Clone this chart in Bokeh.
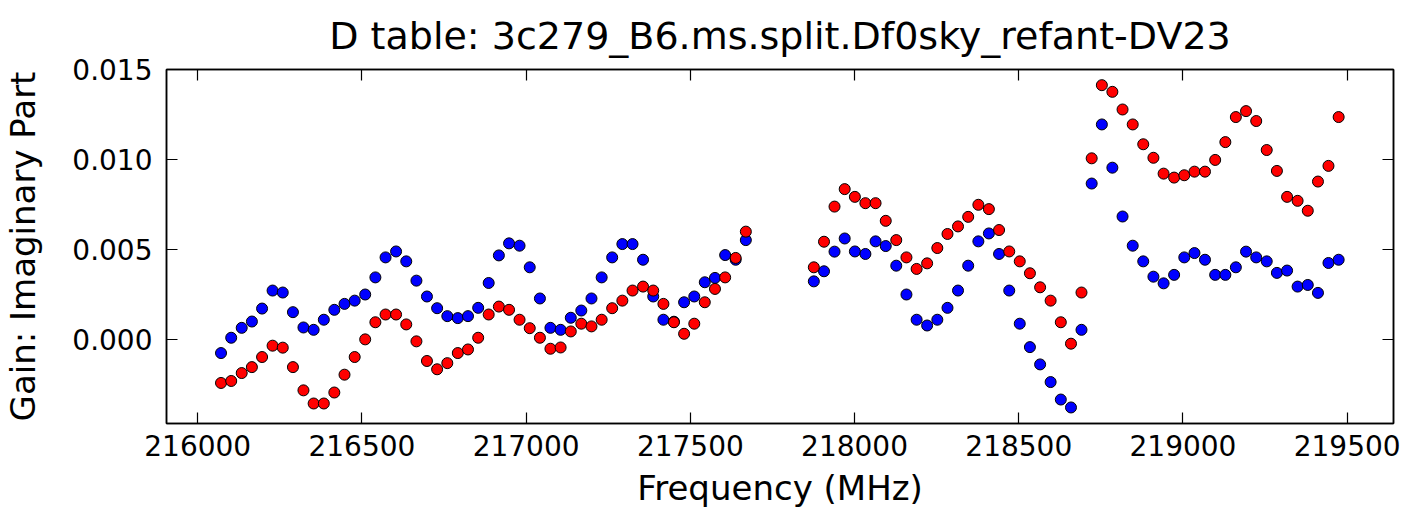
from bokeh.plotting import figure
from bokeh.models import LinearAxis, FixedTicker, NumeralTickFormatter, Range1d
from bokeh.embed import file_html
from bokeh.resources import INLINE

# Frequencies (MHz), two spectral windows
freq_a = [216071, 216102, 216134, 216165, 216196, 216228, 216259, 216290, 216322, 216353,
          216384, 216416, 216447, 216478, 216510, 216541, 216572, 216604, 216635, 216666,
          216698, 216729, 216760, 216792, 216823, 216854, 216886, 216917, 216948, 216980,
          217011, 217042, 217074, 217105, 217136, 217168, 217199, 217230, 217262, 217293,
          217324, 217356, 217387, 217418, 217450, 217481, 217512, 217544, 217575, 217606,
          217638, 217669]
freq_b = [217876, 217907, 217939, 217970, 218001, 218033, 218064, 218095, 218127, 218158,
          218189, 218221, 218252, 218283, 218315, 218346, 218377, 218409, 218440, 218471,
          218503, 218534, 218565, 218597, 218628, 218659, 218691, 218722, 218753, 218785,
          218816, 218847, 218879, 218910, 218941, 218973, 219004, 219035, 219067, 219098,
          219129, 219161, 219192, 219223, 219255, 219286, 219317, 219349, 219380, 219411,
          219443, 219474]

# Imaginary part of D-term gain, polarization 1 (blue)
blue_a = [-0.00074, 0.00011, 0.00066, 0.00101, 0.00173, 0.00273, 0.00262, 0.00153, 0.00068, 0.00055,
          0.00111, 0.00166, 0.00199, 0.00217, 0.00251, 0.00346, 0.00457, 0.00490, 0.00435, 0.00328,
          0.00240, 0.00175, 0.00131, 0.00120, 0.00131, 0.00177, 0.00315, 0.00468, 0.00535, 0.00522,
          0.00402, 0.00229, 0.00066, 0.00055, 0.00122, 0.00162, 0.00229, 0.00346, 0.00457, 0.00531,
          0.00531, 0.00444, 0.00240, 0.00111, 0.00100, 0.00208, 0.00240, 0.00319, 0.00343, 0.00470,
          0.00444, 0.00553]
blue_b = [0.00324, 0.00380, 0.00489, 0.00562, 0.00490, 0.00476, 0.00546, 0.00520, 0.00411, 0.00251,
          0.00111, 0.00079, 0.00111, 0.00177, 0.00273, 0.00411, 0.00546, 0.00590, 0.00476, 0.00273,
          0.00089, -0.00041, -0.00137, -0.00235, -0.00332, -0.00376, 0.00055,
          0.00867, 0.01195, 0.00955, 0.00684, 0.00522, 0.00435, 0.00350, 0.00313, 0.00360, 0.00457,
          0.00481, 0.00444, 0.00360, 0.00360, 0.00402, 0.00489, 0.00457, 0.00435, 0.00371, 0.00384,
          0.00295, 0.00304, 0.00260, 0.00426, 0.00444]

# Imaginary part of D-term gain, polarization 2 (red)
red_a = [-0.00240, -0.00229, -0.00185, -0.00152, -0.00096, -0.00033, -0.00044, -0.00152, -0.00281, -0.00354,
         -0.00354, -0.00293, -0.00194, -0.00096, 0.00002, 0.00097, 0.00140, 0.00140, 0.00085, -0.00009,
         -0.00118, -0.00164, -0.00130, -0.00074, -0.00054, 0.00011, 0.00140, 0.00184, 0.00166, 0.00111,
         0.00064, 0.00011, -0.00050, -0.00043, 0.00046, 0.00089, 0.00074, 0.00111, 0.00175, 0.00217,
         0.00273, 0.00295, 0.00273, 0.00199, 0.00097, 0.00033, 0.00089, 0.00208, 0.00282, 0.00346,
         0.00454, 0.00600]
red_b = [0.00402, 0.00544, 0.00739, 0.00836, 0.00793, 0.00758, 0.00758, 0.00660, 0.00553, 0.00457,
         0.00393, 0.00424, 0.00509, 0.00587, 0.00629, 0.00682, 0.00749, 0.00725, 0.00609, 0.00490,
         0.00435, 0.00369, 0.00291, 0.00217, 0.00097, -0.00022, 0.00262,
         0.01007, 0.01413, 0.01376, 0.01278, 0.01195, 0.01085, 0.01010, 0.00922, 0.00900, 0.00913,
         0.00933, 0.00933, 0.00998, 0.01097, 0.01236, 0.01269, 0.01214, 0.01053, 0.00937, 0.00793,
         0.00771, 0.00716, 0.00878, 0.00965, 0.01236]

x_ticks = [216000, 216500, 217000, 217500, 218000, 218500, 219000, 219500]
y_ticks = [0.000, 0.005, 0.010, 0.015]

FONT = "DejaVu Sans"
TICK_SIZE = "28px"
LABEL_SIZE = "34px"

p = figure(width=1404, height=512, output_backend="svg", toolbar_location=None,
           x_range=Range1d(215905, 219641), y_range=Range1d(-0.00465, 0.015),
           x_axis_label="Frequency (MHz)", y_axis_label="Gain: Imaginary Part",
           min_border_left=166, min_border_right=11, min_border_top=68, min_border_bottom=89)
p.title.text = "D table: 3c279_B6.ms.split.Df0sky_refant-DV23"
p.title.align = "center"
p.title.text_font = FONT
p.title.text_font_size = "38px"
p.title.text_font_style = "normal"
p.title.text_color = "#000000"
p.title.standoff = 23

p.grid.visible = False
p.outline_line_color = "black"
p.outline_line_width = 1.5

top_axis = LinearAxis()
right_axis = LinearAxis()
p.add_layout(top_axis, "above")
p.add_layout(right_axis, "right")

bottom_axis = p.below[0]
left_axis = p.left[0]

for ax in (bottom_axis, top_axis):
    ax.ticker = FixedTicker(ticks=x_ticks)
    ax.formatter = NumeralTickFormatter(format="0")
for ax in (left_axis, right_axis):
    ax.ticker = FixedTicker(ticks=y_ticks)
    ax.formatter = NumeralTickFormatter(format="0.000")

for ax in (bottom_axis, top_axis, left_axis, right_axis):
    ax.major_tick_in = 11
    ax.major_tick_out = 0
    ax.minor_tick_line_color = None
    ax.major_tick_line_color = "black"
    ax.major_tick_line_width = 1.2
    ax.axis_line_color = "black"
    ax.axis_line_width = 1.5
    ax.major_label_text_font = FONT
    ax.major_label_text_font_size = TICK_SIZE
    ax.major_label_text_color = "#000000"
    ax.axis_label_text_font = FONT
    ax.axis_label_text_font_size = LABEL_SIZE
    ax.axis_label_text_font_style = "normal"
    ax.axis_label_text_color = "#000000"

bottom_axis.major_label_standoff = 11
bottom_axis.axis_label_standoff = 9
left_axis.major_label_standoff = 14
left_axis.axis_label_standoff = 26

# mirrored axes: ticks only, labels not drawn
for ax in (top_axis, right_axis):
    ax.major_label_text_font_size = "1px"
    ax.major_label_text_color = None
    ax.major_label_standoff = 0

p.scatter(freq_a, blue_a, size=11, fill_color="#0000ff", line_color="#000000", line_width=1)
p.scatter(freq_b, blue_b, size=11, fill_color="#0000ff", line_color="#000000", line_width=1)
p.scatter(freq_a, red_a, size=11, fill_color="#ff0000", line_color="#000000", line_width=1)
p.scatter(freq_b, red_b, size=11, fill_color="#ff0000", line_color="#000000", line_width=1)

open("out.html", "w").write(file_html(p, INLINE))
